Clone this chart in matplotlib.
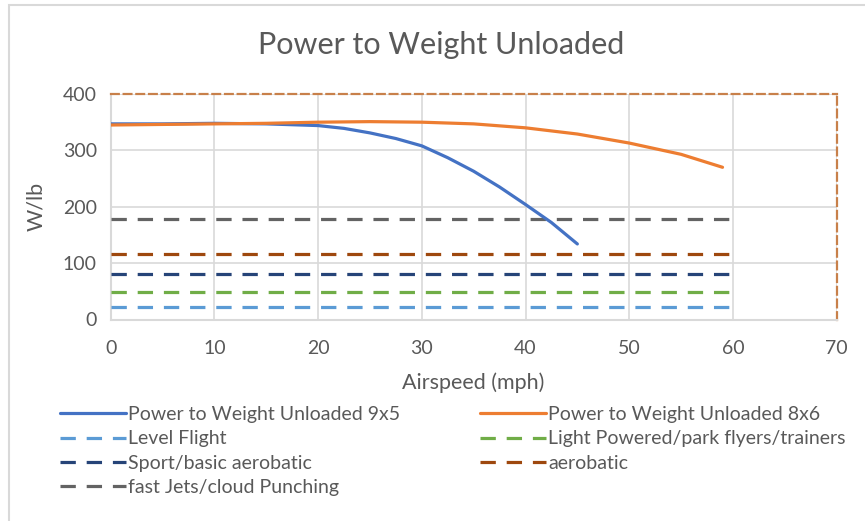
import matplotlib
matplotlib.use("Agg")
import matplotlib.pyplot as plt
from matplotlib.patches import Rectangle

plt.rcParams['font.family'] = ['Lato', 'DejaVu Sans']

# Measured power-to-weight (W/lb) against airspeed (mph)
speed_9x5 = [0, 5, 10, 15, 20, 22.5, 25, 27.5, 30, 32.5, 35, 37.5, 40, 42.5, 45]
pw_9x5 = [347, 347, 348, 347, 344, 339, 331, 321, 308, 287, 263, 235, 204, 172, 134]

speed_8x6 = [0, 5, 10, 15, 20, 25, 30, 35, 40, 45, 50, 55, 59]
pw_8x6 = [345, 346, 347, 348, 350, 351, 350, 347, 340, 329, 313, 293, 270]

# Reference power-to-weight levels by flying style
ref_speed = [0, 60]
ref_labels = ["Level Flight", "Light Powered/park flyers/trainers",
              "Sport/basic aerobatic", "aerobatic", "fast Jets/cloud Punching"]
ref_levels = [22, 49, 80, 117, 178]
ref_colors = ["#5B9BD5", "#70AD47", "#264478", "#9E480E", "#636363"]

x_ticks = [0, 10, 20, 30, 40, 50, 60, 70]
y_ticks = [0, 100, 200, 300, 400]

text_color = "#595959"

fig = plt.figure(figsize=(8.65, 5.21), dpi=100)
ax = fig.add_axes([110.7 / 865, 1 - 319.5 / 521, (836.6 - 110.7) / 865, (319.5 - 94) / 521])

# Outer chart frame
fig.patches.append(Rectangle((9 / 865, -0.1), 1.2, 1 - 5 / 521 + 0.1, transform=fig.transFigure,
                             fill=False, edgecolor="#D9D9D9", linewidth=1.5, zorder=0))

line_9x5, = ax.plot(speed_9x5, pw_9x5, color="#4472C4", lw=2.3, solid_capstyle="round",
                    solid_joinstyle="round", label="Power to Weight Unloaded 9x5", zorder=5)
line_8x6, = ax.plot(speed_8x6, pw_8x6, color="#ED7D31", lw=2.3, solid_capstyle="round",
                    solid_joinstyle="round", label="Power to Weight Unloaded 8x6", zorder=5)

ref_lines = []
for lab, lvl, col in zip(ref_labels, ref_levels, ref_colors):
    ln, = ax.plot(ref_speed, [lvl, lvl], color=col, lw=2.3, linestyle=(0, (4.8, 3.4)),
                  dash_capstyle="butt", label=lab, zorder=4)
    ref_lines.append(ln)

ax.set_xlim(0, 70)
ax.set_ylim(0, 400)
ax.set_xticks(x_ticks)
ax.set_yticks(y_ticks)
ax.grid(True, color="#D9D9D9", lw=1.2, zorder=0)
ax.set_axisbelow(True)
ax.tick_params(length=0, labelsize=14, labelcolor=text_color)
ax.tick_params(axis="x", pad=15)
ax.tick_params(axis="y", pad=10)

for side in ("left", "bottom"):
    ax.spines[side].set_color("#D9D9D9")
    ax.spines[side].set_linewidth(1.5)
for side in ("top", "right"):
    ax.spines[side].set_color("#C8804A")
    ax.spines[side].set_linewidth(1.6)
    ax.spines[side].set_linestyle((0, (3.5, 2.2)))

ax.set_xlabel("Airspeed (mph)", fontsize=15.5, color=text_color, labelpad=11)
ax.set_ylabel("W/lb", fontsize=15.5, color=text_color, labelpad=12)

fig.text(0.51, 1 - 45 / 521, "Power to Weight Unloaded", ha="center", va="center",
         fontsize=22, color=text_color)

handles = [line_9x5, ref_lines[0], ref_lines[2], ref_lines[4],
           line_8x6, ref_lines[1], ref_lines[3]]
fig.legend(handles=handles, labels=[h.get_label() for h in handles], ncol=2,
           loc="upper left", bbox_to_anchor=(60 / 865, 1 - 406 / 521), frameon=False,
           fontsize=14, labelcolor=text_color, handlelength=3.4, handletextpad=0.1,
           labelspacing=0.38, columnspacing=4.1, borderpad=0, borderaxespad=0)

fig.savefig("out.png", dpi=100)
